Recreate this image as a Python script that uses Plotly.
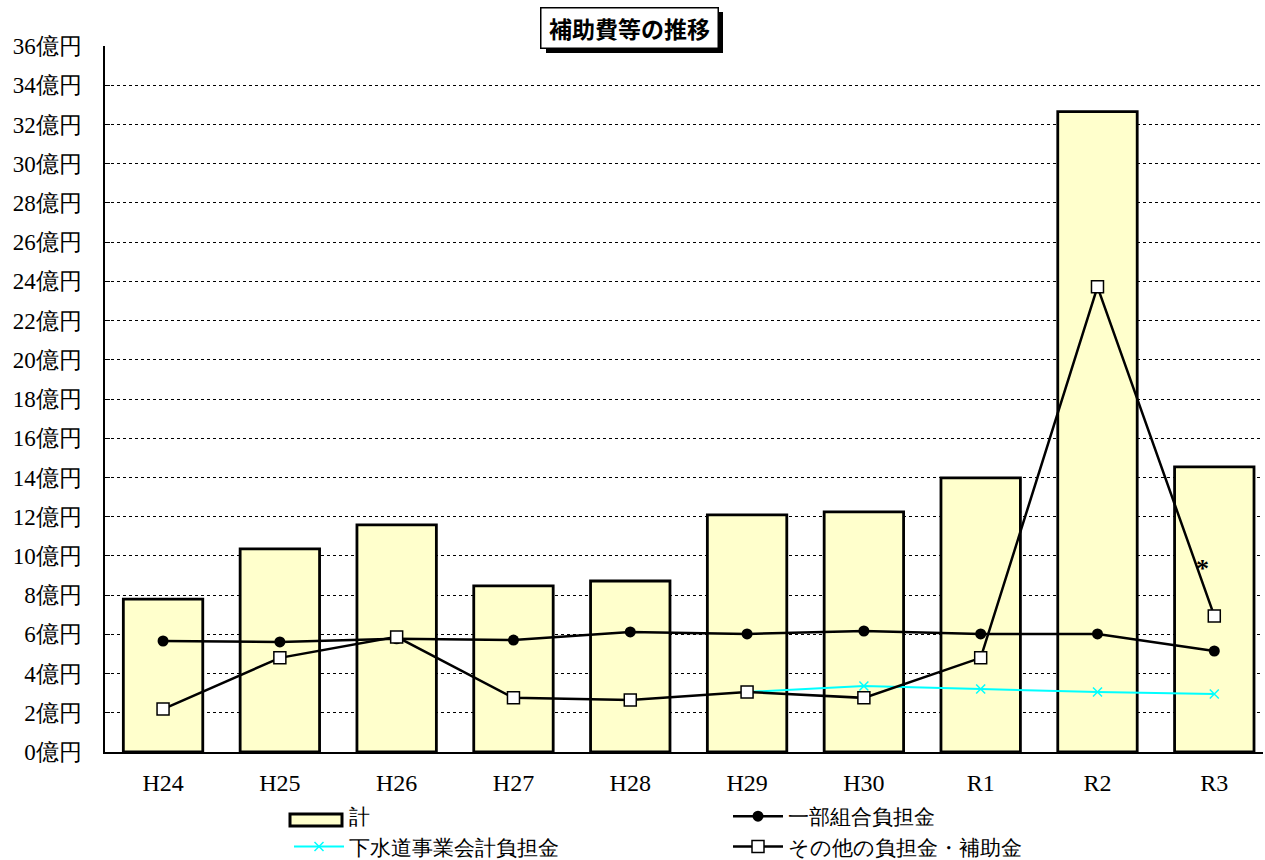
import plotly.graph_objects as go

# 年度ごとの補助費等（億円）
years = ["H24", "H25", "H26", "H27", "H28", "H29", "H30", "R1", "R2", "R3"]
total = [7.8, 10.36, 11.58, 8.47, 8.72, 12.09, 12.24, 13.98, 32.65, 14.54]
ichibu_kumiai = [5.66, 5.61, 5.77, 5.71, 6.12, 6.02, 6.17, 6.02, 6.02, 5.15]
gesuido_years = ["H29", "H30", "R1", "R2", "R3"]
gesuido = [3.06, 3.37, 3.21, 3.06, 2.96]
sonota = [2.19, 4.80, 5.87, 2.76, 2.65, 3.06, 2.76, 4.80, 23.72, 6.94]

y_ticks = list(range(0, 37, 2))
y_tick_text = [f"{v}億円" for v in y_ticks]

SERIF = "Liberation Serif"
SANS = "Noto Sans CJK JP, sans-serif"
BAR_FILL = "#FFFFCC"

# プロット領域（ピクセル）
L, R, T, B = 105, 2, 46, 108
W, H = 1265, 860
PW, PH = W - L - R, H - T - B


def px_x(x):
    return (x - L) / PW


def px_y(y):
    return (H - B - y) / PH


fig = go.Figure()

fig.add_trace(go.Bar(
    x=years, y=total, name="計", showlegend=False,
    marker=dict(color=BAR_FILL, line=dict(color="black", width=2.8)),
))
# 凡例用「計」（見本は下の矩形で描く）
fig.add_trace(go.Scatter(
    x=[None], y=[None], name="計", mode="lines", legend="legend",
    line=dict(color="rgba(0,0,0,0)", width=0),
))
fig.add_trace(go.Scatter(
    x=years, y=ichibu_kumiai, name="一部組合負担金", mode="lines+markers",
    legend="legend2",
    line=dict(color="black", width=2.5),
    marker=dict(symbol="circle", size=11, color="black"),
))
fig.add_trace(go.Scatter(
    x=gesuido_years, y=gesuido, name="下水道事業会計負担金", mode="lines+markers",
    legend="legend",
    line=dict(color="#00FFFF", width=2),
    marker=dict(symbol="x-thin", size=9, line=dict(color="#00FFFF", width=1.5)),
))
fig.add_trace(go.Scatter(
    x=years, y=sonota, name="その他の負担金・補助金", mode="lines+markers",
    legend="legend2",
    line=dict(color="black", width=2.5),
    marker=dict(symbol="square", size=12, color="white", line=dict(color="black", width=1.5)),
))

# 凡例「計」の見本
fig.add_shape(
    type="rect", xref="paper", yref="paper",
    x0=px_x(290), x1=px_x(342), y0=px_y(826), y1=px_y(814),
    fillcolor=BAR_FILL, line=dict(color="black", width=3),
)

# タイトル枠の影
fig.add_shape(
    type="rect", xref="paper", yref="paper",
    x0=px_x(546), x1=px_x(723), y0=px_y(53), y1=px_y(12),
    fillcolor="black", line=dict(color="black", width=0),
)

# 注記のアスタリスク
fig.add_annotation(
    x="R3", y=9.35, text="<b>*</b>", showarrow=False, xshift=-12,
    font=dict(family=SERIF, size=26, color="black"),
)

# タイトル
fig.add_annotation(
    xref="paper", yref="paper", x=px_x(629.5), y=px_y(27.5),
    text="<b>補助費等の推移</b>", showarrow=False,
    xanchor="center", yanchor="middle", width=166, height=29,
    font=dict(family=SANS, size=23, color="black"),
    bgcolor="white", bordercolor="black", borderwidth=1.5, borderpad=5,
)

legend_common = dict(
    orientation="v", xref="container", yref="container",
    xanchor="left", yanchor="top",
    font=dict(family=SERIF, size=21, color="black"),
    itemwidth=50, tracegroupgap=0, bgcolor="rgba(0,0,0,0)",
)

fig.update_layout(
    width=W, height=H,
    margin=dict(l=L, r=R, t=T, b=B, autoexpand=False),
    paper_bgcolor="white", plot_bgcolor="white",
    bargap=0.32,
    showlegend=True,
    legend=dict(x=289 / W, y=1 - 796 / H, **legend_common),
    legend2=dict(x=728 / W, y=1 - 796 / H, **legend_common),
    font=dict(family=SERIF, size=21, color="black"),
)

fig.update_xaxes(
    type="category", showline=True, linecolor="black", linewidth=1.5,
    showgrid=False, ticks="", ticklabelstandoff=8,
    tickfont=dict(family=SERIF, size=24, color="black"),
    range=[-0.497, 9.417],
)
fig.update_yaxes(
    range=[0, 36], tickvals=y_ticks, ticktext=y_tick_text,
    showline=True, linecolor="black", linewidth=1.5,
    showgrid=True, gridcolor="black", gridwidth=1, griddash="dot",
    ticks="inside", ticklen=5, tickcolor="black",
    ticklabelstandoff=17,
    tickfont=dict(family=SERIF, size=23, color="black"),
    zeroline=False,
)

fig.write_html("out.html")
